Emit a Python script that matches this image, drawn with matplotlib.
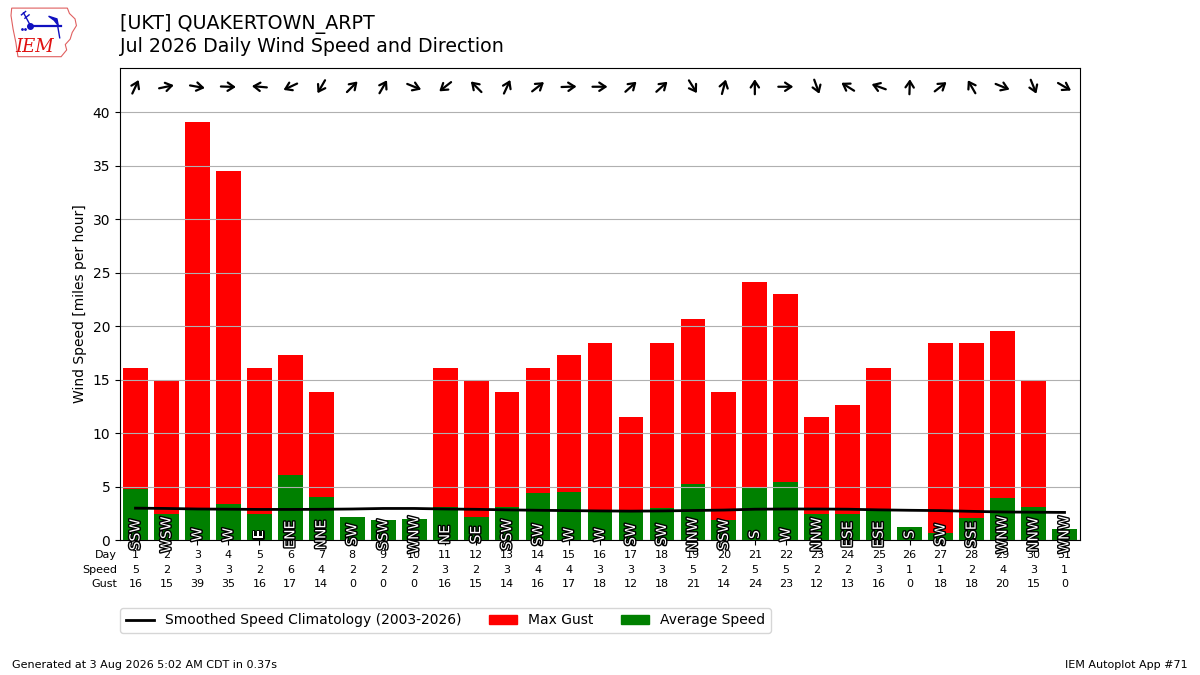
import matplotlib

matplotlib.use("Agg")
import matplotlib.pyplot as plt
import matplotlib.patheffects as PathEffects
from matplotlib.lines import Line2D
from matplotlib.patches import Patch, Polygon
from matplotlib.transforms import offset_copy
import numpy as np

# daily values, July 2026
DAYS = list(range(1, 32))
AVG_SPEED = [4.75, 2.47, 3.0, 3.35, 2.4, 6.08, 3.99, 2.12, 1.84, 1.93, 3.13,
             2.12, 3.13, 4.37, 4.49, 2.6, 2.8, 3.0, 5.28, 1.84, 4.97, 5.44,
             2.47, 2.4, 2.7, 1.23, 0.7, 2.09, 3.92, 3.13, 1.04]
MAX_GUST = [16.11, 14.96, 39.13, 34.52, 16.11, 17.26, 13.81, 0, 0, 0, 16.11,
            14.96, 13.81, 16.11, 17.26, 18.41, 11.51, 18.41, 20.71, 13.81,
            24.17, 23.02, 11.51, 12.66, 16.11, 0, 18.41, 18.41, 19.56, 14.96, 0]
WIND_DIR = [205, 258, 280, 272, 95, 65, 30, 225, 210, 292, 52, 135, 205, 232,
            268, 270, 228, 228, 328, 195, 180, 270, 340, 122, 110, 182, 232,
            150, 292, 338, 300]
CLIMO = [2.98, 2.95, 2.9, 2.88, 2.86, 2.86, 2.87, 2.9, 2.95, 2.95, 2.9, 2.87,
         2.82, 2.78, 2.75, 2.72, 2.7, 2.72, 2.76, 2.8, 2.88, 2.9, 2.9, 2.88,
         2.82, 2.78, 2.75, 2.68, 2.62, 2.6, 2.58]

COMPASS = ["N", "NNE", "NE", "ENE", "E", "ESE", "SE", "SSE",
           "S", "SSW", "SW", "WSW", "W", "WNW", "NW", "NNW"]


def drct2text(drct):
    return COMPASS[int(((drct + 11.25) % 360) // 22.5)]


def draw_logo(fig):
    lax = fig.add_axes([0.008, 0.912, 0.058, 0.08])
    lax.set_xlim(0, 10)
    lax.set_ylim(0, 8)
    lax.axis("off")
    outline = [(0.3, 7.6), (8.3, 7.6), (8.6, 6.8), (9.4, 6.0), (9.6, 5.0),
               (9.0, 4.0), (8.7, 3.0), (8.0, 2.2), (8.2, 1.4), (7.4, 0.4),
               (1.2, 0.4), (0.9, 2.5), (0.5, 4.5), (0.2, 6.5)]
    lax.add_patch(Polygon(outline, closed=True, fill=False, edgecolor="#e06060", lw=0.8))
    # little station model in blue
    lax.plot([3.0, 7.4], [5.0, 5.0], color="#1010c0", lw=1.6)
    lax.plot([3.0], [5.0], "o", color="#1010c0", ms=4)
    lax.plot([2.0, 3.0], [6.9, 5.0], color="#1010c0", lw=1)
    lax.plot([1.7, 2.3], [6.6, 7.1], color="#1010c0", lw=1)
    lax.plot([2.2, 2.8], [6.1, 6.6], color="#1010c0", lw=1)
    lax.add_patch(Polygon([(5.6, 6.4), (6.8, 6.0), (7.0, 5.0), (6.4, 5.8)],
                          closed=True, color="#1010c0"))
    lax.plot([6.9, 7.2], [5.0, 3.2], color="#1010c0", lw=1)
    lax.plot([1.8, 2.2], [4.5, 4.5], ".", color="#1010c0", ms=2)
    lax.text(3.6, 1.9, "IEM", color="#e01010", fontsize=13, style="italic",
             family="DejaVu Serif", ha="center", va="center")


def main() -> None:
    fig = plt.figure(figsize=(12, 6.75), dpi=100)
    ax = fig.add_axes([0.1, 0.2, 0.8, 0.7])

    ax.bar(DAYS, MAX_GUST, width=0.8, color="r", label="Max Gust", zorder=1)
    ax.bar(DAYS, AVG_SPEED, width=0.8, color="g", label="Average Speed", zorder=1)
    ax.plot(DAYS, CLIMO, color="k", lw=2, zorder=3,
            label="Smoothed Speed Climatology (2003-2026)")

    # compass label inside each bar
    for day, drct in zip(DAYS, WIND_DIR):
        txt = ax.text(day, 0.5, drct2text(drct), rotation=90, ha="center",
                      va="center", color="white", fontsize=10, zorder=4)
        txt.set_path_effects([PathEffects.withStroke(linewidth=2, foreground="k")])

    # arrows showing where the wind blows to
    half = 5.4  # points
    for day, drct in zip(DAYS, WIND_DIR):
        rad = np.radians(drct + 180)
        dx, dy = half * np.sin(rad), half * np.cos(rad)
        ax.annotate(
            "",
            xy=(day, 42.4),
            xycoords=offset_copy(ax.transData, fig=fig, x=dx, y=dy, units="points"),
            xytext=(day, 42.4),
            textcoords=offset_copy(ax.transData, fig=fig, x=-dx, y=-dy, units="points"),
            arrowprops=dict(arrowstyle="->,head_length=0.45,head_width=0.3",
                            color="k", lw=1.6, shrinkA=0, shrinkB=0),
        )

    ax.set_xlim(0.5, 31.5)
    ax.set_ylim(0, 44.2)
    ax.set_yticks(np.arange(0, 41, 5))
    ax.yaxis.grid(True, color="#b0b0b0", lw=0.8)
    ax.set_ylabel("Wind Speed [miles per hour]")

    ax.set_xticks(DAYS)
    ax.set_xticklabels(
        [f"{d}\n{s:.0f}\n{g:.0f}" for d, s, g in zip(DAYS, AVG_SPEED, MAX_GUST)],
        fontsize=8,
    )
    for lbl in ax.get_xticklabels():
        lbl.set_linespacing(1.6)
    ax.annotate("Day\nSpeed\nGust", xy=(0, 0), xycoords="axes fraction",
                xytext=(-2, -7), textcoords="offset points", ha="right",
                va="top", fontsize=8, linespacing=1.6)

    handles = [
        Line2D([], [], color="k", lw=2),
        Patch(color="r"),
        Patch(color="g"),
    ]
    ax.legend(handles, ["Smoothed Speed Climatology (2003-2026)", "Max Gust",
                        "Average Speed"],
              loc="upper left", bbox_to_anchor=(-0.007, -0.129), ncol=3,
              fontsize=10)

    fig.text(0.1, 1 - 14 / 675, "[UKT] QUAKERTOWN_ARPT\nJul 2026 Daily Wind Speed and Direction",
             fontsize=13.7, ha="left", va="top")
    fig.text(0.01, 0.01, "Generated at 3 Aug 2026 5:02 AM CDT in 0.37s", fontsize=8)
    fig.text(0.99, 0.01, "IEM Autoplot App #71", fontsize=8, ha="right")
    draw_logo(fig)

    fig.savefig("out.png", dpi=100)


if __name__ == "__main__":
    main()
